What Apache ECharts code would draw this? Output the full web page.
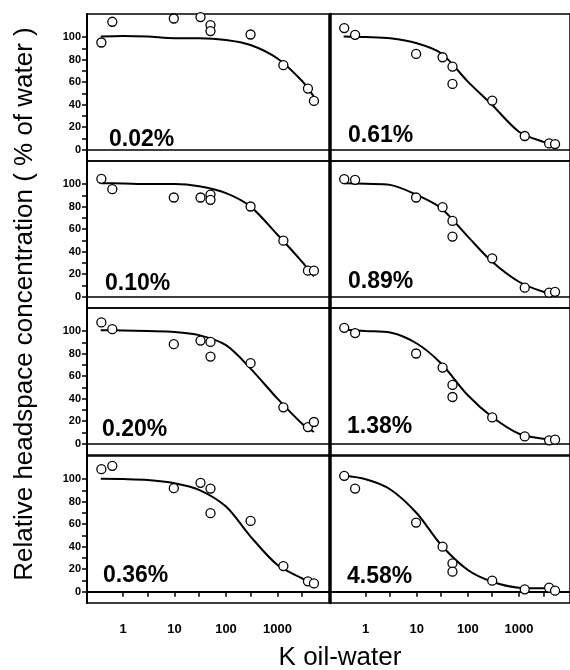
<!DOCTYPE html>
<html>
<head>
<meta charset="utf-8">
<script src="https://cdn.jsdelivr.net/npm/echarts@6/dist/echarts.min.js"></script>
<style>
html, body { margin: 0; padding: 0; background: #fff; }
#chart { width: 570px; height: 670px; }
</style>
</head>
<body>
<div id="chart"></div>
<script>
// K oil-water of the ten compounds (same in every panel)
var kPoints = [0.38, 0.62, 9.7, 32, 50, 50, 300, 1300, 3900, 5100];
var kCurve = [0.37, 1, 3, 10, 30, 100, 300, 1000, 3000, 5100];

// panels in reading order: row by row, left then right
var panelLabels = ['0.02%', '0.61%', '0.10%', '0.89%', '0.20%', '1.38%', '0.36%', '4.58%'];

// measured relative headspace concentration (% of water)
var obs002 = [95.2, 113.6, 116.5, 117.8, 110.7, 105.3, 102.3, 75.1, 54.3, 43.3];
var obs061 = [108, 102, 85.1, 82.1, 73.8, 58.4, 43.6, 12.2, 5.6, 5.0];
var obs010 = [104.7, 95.5, 88.1, 88.1, 90.7, 86.0, 80.1, 49.8, 23.1, 23.1];
var obs089 = [104.4, 103.8, 88.1, 79.5, 67.3, 53.4, 34.1, 8.0, 3.6, 4.4];
var obs020 = [107.7, 101.7, 88.4, 91.6, 90.4, 77.4, 71.5, 32.3, 14.8, 19.3];
var obs138 = [102.9, 98.2, 80.1, 67.6, 52.2, 41.5, 23.4, 6.5, 3.0, 3.6];
var obs036 = [108.8, 111.8, 91.9, 96.7, 91.6, 69.7, 62.9, 22.8, 9.2, 7.4];
var obs458 = [102.9, 91.6, 61.4, 40.0, 25.2, 17.8, 9.8, 2.1, 3.6, 0.9];

// fitted curves
var fit002 = [100.5, 101, 100.5, 99, 99, 97.5, 93, 81, 61, 47];
var fit061 = [100.5, 100, 99, 94.6, 85.7, 60.5, 39.7, 16, 7, 5];
var fit010 = [100.8, 100.5, 100, 100, 98, 92, 80, 55, 31, 18];
var fit089 = [100.8, 100.2, 99.3, 90.4, 78.6, 53.4, 31, 13.3, 4.4, 3];
var fit020 = [100.8, 100.5, 100, 99.3, 96.4, 87.5, 66.7, 40, 17.8, 10.4];
var fit138 = [101.4, 100, 98.8, 89, 71.2, 43, 23.7, 8.9, 4.4, 3.6];
var fit036 = [100.2, 100, 99.3, 96.4, 90.5, 75.6, 49, 23.7, 11.9, 6];
var fit458 = [102.9, 99.9, 91, 69.7, 41.5, 19.3, 8.9, 3.6, 3, 3];

var observed = [obs002, obs061, obs010, obs089, obs020, obs138, obs036, obs458];
var fitted = [fit002, fit061, fit010, fit089, fit020, fit138, fit036, fit458];

// ticks
var xTicks = [1, 3, 10, 30, 100, 300, 1000, 3000];
var xTickLabels = [1, 10, 100, 1000];
var yTicks = [0, 10, 20, 30, 40, 50, 60, 70, 80, 90, 100];
var yTickLabels = [0, 20, 40, 60, 80, 100];

var FONT = 'Liberation Sans, Arial, sans-serif';
var rowTop = [14, 161, 308, 456];
var labelPos = [[109, 140], [348, 136], [105, 284], [348, 282], [102, 430], [347, 427], [103, 576], [347, 577]];

function pairs(xs, ys) {
    return xs.map(function (x, i) { return [x, ys[i]]; });
}

var grids = [], xAxes = [], yAxes = [], series = [], graphics = [];

for (var i = 0; i < 8; i++) {
    var row = Math.floor(i / 2), col = i % 2;
    var bottomRow = row === 3;
    grids.push({
        left: col === 0 ? 87 : 330,
        top: rowTop[row],
        width: col === 0 ? 242 : 241,
        height: 147,
        show: true,
        borderColor: '#000',
        borderWidth: 1.5
    });
    xAxes.push({
        type: 'log',
        logBase: 10,
        gridIndex: i,
        min: 0.2,
        max: 10000,
        splitLine: { show: false },
        axisLine: { show: true, lineStyle: { color: '#000', width: bottomRow ? 2 : 1.5 } },
        axisTick: { show: bottomRow, customValues: xTicks, length: 5, lineStyle: { color: '#000', width: 1.5 } },
        axisLabel: {
            show: bottomRow,
            customValues: xTickLabels,
            margin: 20,
            color: '#000',
            fontSize: 13,
            fontWeight: 'bold',
            fontFamily: FONT,
            formatter: function (v) { return String(Math.round(v)); }
        }
    });
    yAxes.push({
        type: 'value',
        gridIndex: i,
        min: -10,
        max: 120.5,
        splitLine: { show: false },
        axisLine: { show: true, lineStyle: { color: '#000', width: col === 0 ? 2 : 2.5 } },
        axisTick: { show: col === 0, customValues: yTicks, length: 5, lineStyle: { color: '#000', width: 1.5 } },
        axisLabel: {
            show: col === 0,
            customValues: yTickLabels,
            margin: 6,
            color: '#000',
            fontSize: 11,
            fontWeight: 'bold',
            fontFamily: FONT
        }
    });
    series.push({
        type: 'line',
        xAxisIndex: i,
        yAxisIndex: i,
        data: pairs(kCurve, fitted[i]),
        smooth: 0.3,
        showSymbol: false,
        lineStyle: { color: '#000', width: 2 },
        z: 2
    });
    series.push({
        type: 'scatter',
        xAxisIndex: i,
        yAxisIndex: i,
        data: pairs(kPoints, observed[i]),
        symbol: 'circle',
        symbolSize: 9,
        itemStyle: { color: '#fff', borderColor: '#000', borderWidth: 1.3, opacity: 1 },
        z: 3
    });
    graphics.push({
        type: 'text',
        x: labelPos[i][0],
        y: labelPos[i][1],
        style: {
            text: panelLabels[i],
            font: 'bold 23px ' + FONT,
            fill: '#000',
            textAlign: 'left',
            textVerticalAlign: 'middle'
        },
        z: 10
    });
}

graphics.push({
    type: 'text',
    x: 25,
    y: 304,
    rotation: Math.PI / 2,
    style: {
        text: 'Relative headspace concentration ( % of water )',
        font: '26px ' + FONT,
        fill: '#000',
        textAlign: 'center',
        textVerticalAlign: 'middle'
    }
});
graphics.push({
    type: 'text',
    x: 340,
    y: 658,
    style: {
        text: 'K oil-water',
        font: '26px ' + FONT,
        fill: '#000',
        textAlign: 'center',
        textVerticalAlign: 'middle'
    }
});

var chart = echarts.init(document.getElementById('chart'), null, { renderer: 'canvas' });
chart.setOption({
    animation: false,
    backgroundColor: '#fff',
    grid: grids,
    xAxis: xAxes,
    yAxis: yAxes,
    series: series,
    graphic: graphics
});
</script>
</body>
</html>
